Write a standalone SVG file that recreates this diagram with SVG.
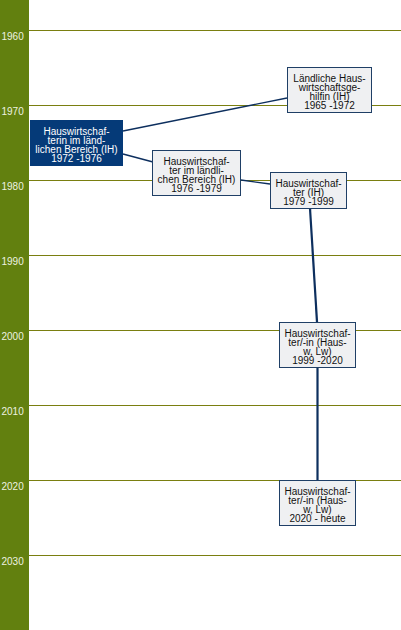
<svg xmlns="http://www.w3.org/2000/svg" width="401" height="630" viewBox="0 0 401 630">
<style>
.grid{stroke:#7a7f10;stroke-width:1}
.yr{font-family:"Liberation Sans",Arial,sans-serif;font-size:10px;fill:#eef2e0}
.box{fill:#eff0f2;stroke:#1f3f66;stroke-width:1}
.boxd{fill:#053a78;stroke:#053a78;stroke-width:1}
.t{font-family:"Liberation Sans",Arial,sans-serif;font-size:10px;fill:#111;text-anchor:middle}
.td{font-family:"Liberation Sans",Arial,sans-serif;font-size:10px;fill:#fff;text-anchor:middle}
.c{stroke:#0d2f5e;stroke-width:1.3;fill:none}
.c2{stroke:#0d2f5e;stroke-width:2.2;fill:none}
</style>
<rect x="0" y="0" width="401" height="630" fill="#fff"/>
<rect x="0" y="0" width="29" height="630" fill="#62800f"/>
<g id="grid">
<line class="grid" x1="29" y1="30.5" x2="401" y2="30.5"/>
<line class="grid" x1="29" y1="105.5" x2="401" y2="105.5"/>
<line class="grid" x1="29" y1="180.5" x2="401" y2="180.5"/>
<line class="grid" x1="29" y1="255.5" x2="401" y2="255.5"/>
<line class="grid" x1="29" y1="330.5" x2="401" y2="330.5"/>
<line class="grid" x1="29" y1="405.5" x2="401" y2="405.5"/>
<line class="grid" x1="29" y1="480.5" x2="401" y2="480.5"/>
<line class="grid" x1="29" y1="555.5" x2="401" y2="555.5"/>
<text class="yr" x="1.5" y="39.5">1960</text>
<text class="yr" x="1.5" y="114.5">1970</text>
<text class="yr" x="1.5" y="189.5">1980</text>
<text class="yr" x="1.5" y="264.5">1990</text>
<text class="yr" x="1.5" y="339.5">2000</text>
<text class="yr" x="1.5" y="414.5">2010</text>
<text class="yr" x="1.5" y="489.5">2020</text>
<text class="yr" x="1.5" y="564.5">2030</text>
</g>
<g id="connectors">
<line class="c" x1="123" y1="131" x2="287" y2="98"/>
<line class="c" x1="123" y1="154" x2="153" y2="162"/>
<line class="c" x1="241" y1="180" x2="270" y2="184"/>
<line class="c2" x1="310" y1="208" x2="317" y2="322"/>
<line class="c2" x1="317.5" y1="367" x2="317.5" y2="480"/>
</g>
<g id="n1965">
<rect class="box" x="287.5" y="67.5" width="84" height="45"/>
<text class="t" x="329.5" y="81.5">Ländliche Haus-</text>
<text class="t" x="329.5" y="90.5">wirtschaftsge-</text>
<text class="t" x="329.5" y="99.5">hilfin (IH)</text>
<text class="t" x="329.5" y="108.5">1965 -1972</text>
</g>
<g id="n1972">
<rect class="boxd" x="30.5" y="120.5" width="92" height="45"/>
<text class="td" x="76.5" y="134.5">Hauswirtschaf-</text>
<text class="td" x="76.5" y="143.5">terin im länd-</text>
<text class="td" x="76.5" y="152.5">lichen Bereich (IH)</text>
<text class="td" x="76.5" y="161.5">1972 -1976</text>
</g>
<g id="n1976">
<rect class="box" x="152.5" y="150.5" width="88" height="45"/>
<text class="t" x="196.5" y="164.5">Hauswirtschaf-</text>
<text class="t" x="196.5" y="173.5">ter im ländli-</text>
<text class="t" x="196.5" y="182.5">chen Bereich (IH)</text>
<text class="t" x="196.5" y="191.5">1976 -1979</text>
</g>
<g id="n1979">
<rect class="box" x="270.5" y="172.5" width="76" height="36"/>
<text class="t" x="308.5" y="186.5">Hauswirtschaf-</text>
<text class="t" x="308.5" y="195.5">ter (IH)</text>
<text class="t" x="308.5" y="204.5">1979 -1999</text>
</g>
<g id="n1999">
<rect class="box" x="279.5" y="322.5" width="76" height="45"/>
<text class="t" x="317.5" y="336.5">Hauswirtschaf-</text>
<text class="t" x="317.5" y="345.5">ter/-in (Haus-</text>
<text class="t" x="317.5" y="354.5">w, Lw)</text>
<text class="t" x="317.5" y="363.5">1999 -2020</text>
</g>
<g id="n2020">
<rect class="box" x="279.5" y="480.5" width="76" height="45"/>
<text class="t" x="317.5" y="494.5">Hauswirtschaf-</text>
<text class="t" x="317.5" y="503.5">ter/-in (Haus-</text>
<text class="t" x="317.5" y="512.5">w, Lw)</text>
<text class="t" x="317.5" y="521.5">2020 - heute</text>
</g>
</svg>
